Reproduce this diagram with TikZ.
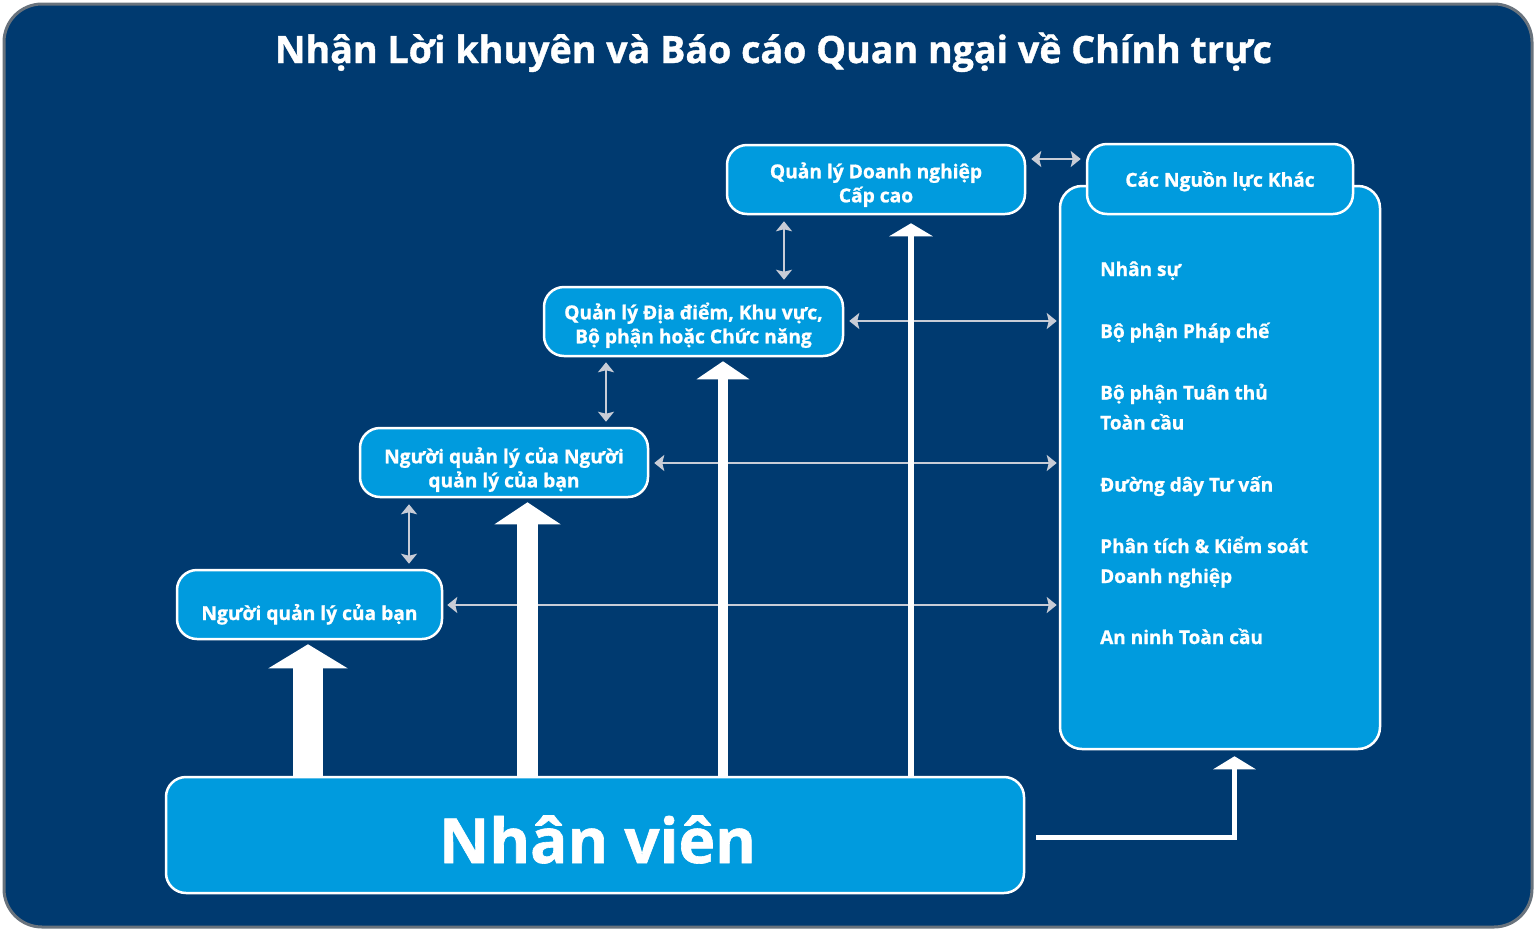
\documentclass[tikz,border=0pt]{standalone}
\usepackage{fontspec}
\setmainfont{Open Sans}[BoldFeatures={FakeBold=1}]
\usetikzlibrary{arrows.meta}
\definecolor{bgblue}{RGB}{0,58,112}
\definecolor{boxblue}{RGB}{0,155,222}
\definecolor{bordergray}{RGB}{105,115,125}
\definecolor{arrgray}{RGB}{200,204,214}
\newcommand{\bt}[2]{\raisebox{#1}[0pt][0pt]{\begin{tabular}[t]{@{}c@{}}#2\end{tabular}}}
\tikzset{
  box/.style={draw=white, line width=2.5pt, fill=boxblue, rounded corners=20pt, text=white, font=\bfseries\fontsize{19.2}{24}\selectfont, align=center, inner sep=0pt},
  itemtext/.style={anchor=base west, text=white, font=\bfseries\fontsize{19}{24}\selectfont, inner sep=0pt},
  grayarr/.style={draw=arrgray, line width=2.5pt, {Stealth[length=10pt,width=16pt,inset=2pt]}-{Stealth[length=10pt,width=16pt,inset=2pt]}},
  blockarrow/.style n args={3}{draw=white, line width=#1, -{Triangle[length=#2,width=#3]}},
}
\begin{document}
\begin{tikzpicture}[x=1pt,y=-1pt]
\useasboundingbox (0,0) rectangle (1535,930);
\draw[fill=bgblue, draw=bordergray, line width=3pt, rounded corners=38pt] (4,4) rectangle (1532,927);
\node[anchor=base, inner sep=0pt, text=white, font=\bfseries\fontsize{37.6}{44}\selectfont] (title) at (773.5,63) {Nhận Lời khuyên và Báo cáo Quan ngại về Chính trực};

% panel
\node[box, rounded corners=22pt, minimum width=320pt, minimum height=563pt] (panel) at (1220,467.5) {};
\node[box, minimum width=266pt, minimum height=70pt] (other) at (1220,179) {\bt{-7.7pt}{Các Nguồn lực Khác}};
\node[box, minimum width=298pt, minimum height=69pt] (cc) at (876,179.5) {\bt{1.2pt}{Quản lý Doanh nghiệp\\Cấp cao}};
\node[box, minimum width=299pt, minimum height=69pt] (dd) at (693.5,321.5) {\bt{2.2pt}{Quản lý Địa điểm, Khu vực,\\Bộ phận hoặc Chức năng}};
\node[box, minimum width=288pt, minimum height=69pt] (mm) at (504,462.5) {\bt{-0.8pt}{Người quản lý của Người\\quản lý của bạn}};
\node[box, minimum width=265pt, minimum height=69pt] (mgr) at (309.5,604.5) {\bt{-15.5pt}{Người quản lý của bạn}};
\node[box, minimum width=858pt, minimum height=116pt, font=\bfseries\fontsize{62}{74}\selectfont] (emp) at (595,835) {\hspace{5pt}\bt{-28pt}{Nhân viên}};

% panel items
\node[itemtext] (i1) at (1100,276) {Nhân sự};
\node[itemtext] (i2) at (1100,338) {Bộ phận Pháp chế};
\node[itemtext] (i3a) at (1100,399.5) {Bộ phận Tuân thủ};
\node[itemtext] (i3b) at (1100,429.5) {Toàn cầu};
\node[itemtext] (i4) at (1100,491.5) {Đường dây Tư vấn};
\node[itemtext] (i5a) at (1100,553) {Phân tích \& Kiểm soát};
\node[itemtext] (i5b) at (1100,583) {Doanh nghiệp};
\node[itemtext] (i6) at (1100,644) {An ninh Toàn cầu};

% gray double arrows
\draw[grayarr, shorten <=5pt, shorten >=5pt] (cc.east |- 0,159) -- (other.west |- 0,159);
\draw[grayarr, shorten <=6pt, shorten >=6pt] (784,0 |- cc.south) -- (784,0 |- dd.north);
\draw[grayarr, shorten <=5pt, shorten >=5pt] (606,0 |- dd.south) -- (606,0 |- mm.north);
\draw[grayarr, shorten <=6pt, shorten >=5pt] (409,0 |- mm.south) -- (409,0 |- mgr.north);
\draw[grayarr, shorten <=5pt, shorten >=2pt] (dd.east |- 0,321) -- (panel.west |- 0,321);
\draw[grayarr, shorten <=5pt, shorten >=2pt] (mm.east |- 0,463) -- (panel.west |- 0,463);
\draw[grayarr, shorten <=4pt, shorten >=2pt] (mgr.east |- 0,605) -- (panel.west |- 0,605);

% block arrows
\draw[blockarrow={30pt}{24pt}{78pt}, shorten >=4pt] (308,0 |- emp.north) -- (308,0 |- mgr.south);
\draw[blockarrow={21pt}{22pt}{65pt}, shorten >=4pt] (527.5,0 |- emp.north) -- (527.5,0 |- mm.south);
\draw[blockarrow={10pt}{18pt}{52pt}, shorten >=4pt] (723,0 |- emp.north) -- (723,0 |- dd.south);
\draw[blockarrow={6pt}{13pt}{43pt}, shorten >=8pt] (911,0 |- emp.north) -- (911,0 |- cc.south);
\draw[blockarrow={5pt}{13pt}{42pt}, shorten >=6pt, shorten <=11pt] (emp.east |- 0,837) -| (1234.5,0 |- panel.south);
\end{tikzpicture}
\end{document}
